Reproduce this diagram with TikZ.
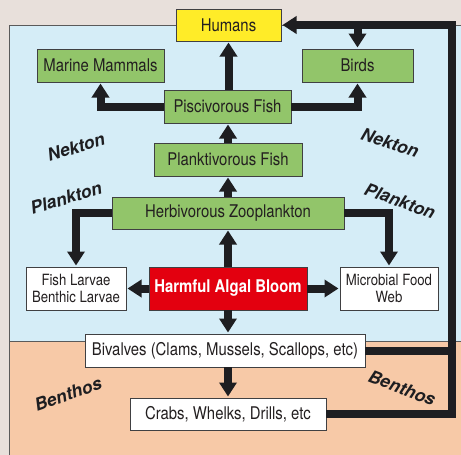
\documentclass[tikz,border=0pt]{standalone}
\usepackage{fontspec}
\usetikzlibrary{arrows.meta,shadows}
\newfontfamily\cnfont[FakeStretch=0.85]{TeX Gyre Heros}
\newfontfamily\lblfont{TeX Gyre Heros}
\definecolor{outerbg}{RGB}{232,224,219}
\definecolor{seablue}{RGB}{213,237,247}
\definecolor{peach}{RGB}{247,201,167}
\definecolor{boxgreen}{RGB}{146,197,106}
\definecolor{hyellow}{RGB}{255,236,40}
\definecolor{hred}{RGB}{227,0,15}
\definecolor{ink}{RGB}{30,30,33}
\definecolor{txt}{RGB}{35,31,32}
\definecolor{frameline}{RGB}{90,90,90}
\tikzset{
  box/.style={draw=ink!85, line width=0.9pt, inner sep=0pt, outer sep=0pt,
    font=\cnfont\fontsize{17.5}{18}\selectfont, text=txt, align=center,
    drop shadow={shadow xshift=1.2pt, shadow yshift=-1.2pt, fill=black!40, opacity=1}},
  greenbox/.style={box, fill=boxgreen},
  whitebox/.style={box, fill=white},
  smallbox/.style={box, fill=white, font=\cnfont\fontsize{15.5}{17.5}\selectfont},
  lbl/.style={font=\lblfont\bfseries\itshape\fontsize{17.5}{18}\selectfont, text=ink, inner sep=0pt},
  arr/.style={draw=ink, line width=8pt, line join=miter, -{Triangle[width=17pt,length=14pt]}, shorten >=1.5pt},
  bar/.style={draw=ink, line width=8pt, line join=miter}
}
\begin{document}
\begin{tikzpicture}[x=1pt,y=-1pt]
\useasboundingbox (0,0) rectangle (461,455);
\fill[outerbg] (0,0) rectangle (461,455);
\fill[seablue] (9.5,25.5) rectangle (461,341);
\fill[peach] (9.5,341) rectangle (461,455);
\draw[frameline, line width=0.8pt] (461,25.5) -- (9.5,25.5) -- (9.5,455);
\draw[frameline, line width=0.8pt] (9.5,341) -- (461,341);

% nodes
\node[box, fill=hyellow, minimum width=105pt, minimum height=32pt] (hum) at (228.5,25) {Humans};
\node[greenbox, minimum width=127pt, minimum height=33pt] (mm) at (100.5,65.5) {Marine Mammals};
\node[greenbox, minimum width=111pt, minimum height=33pt] (birds) at (357.5,65.5) {Birds};
\node[greenbox, minimum width=127pt, minimum height=33pt] (pisc) at (227.5,106.5) {Piscivorous Fish};
\node[greenbox, minimum width=148pt, minimum height=33pt] (plank) at (228,159.5) {Planktivorous Fish};
\node[greenbox, minimum width=232pt, minimum height=32pt] (herb) at (228,213) {Herbivorous Zooplankton};
\node[smallbox, minimum width=100pt, minimum height=43pt] (larv) at (76,288.5) {Fish Larvae\\Benthic Larvae};
\node[box, fill=hred, text=white, font=\cnfont\bfseries\fontsize{17.5}{18}\selectfont, minimum width=158pt, minimum height=43pt] (hab) at (228,288.5) {Harmful Algal Bloom};
\node[smallbox, minimum width=98pt, minimum height=43pt] (micro) at (389,288.5) {Microbial Food\\Web};
\node[whitebox, minimum width=280pt, minimum height=33pt] (biv) at (225,350.5) {Bivalves (Clams, Mussels, Scallops, etc)};
\node[whitebox, minimum width=196pt, minimum height=32pt] (crabs) at (228,414) {Crabs, Whelks, Drills, etc};

% zone labels
\node[lbl, rotate=17] (nk1) at (76,147) {Nekton};
\node[lbl, rotate=17] (pk1) at (66,198) {Plankton};
\node[lbl, rotate=-18] (nk2) at (390,143) {Nekton};
\node[lbl, rotate=-20] (pk2) at (400,201) {Plankton};
\node[lbl, rotate=19] (bn1) at (68,394) {Benthos};
\node[lbl, rotate=-21] (bn2) at (402,388) {Benthos};

% connectors
\draw[arr] (pisc.north -| hum.south) -- (hum.south);
\draw[arr] (pisc.west) -| (mm.south);
\draw[arr] (pisc.east) -| (birds.south);
\draw[arr] (plank.north) -- (plank.north |- pisc.south);
\draw[arr] (herb.north) -- (herb.north |- plank.south);
\draw[arr] (herb.west) -| (larv.north);
\draw[arr] (herb.east) -| (micro.north);
\draw[arr] (hab.north) -- (hab.north |- herb.south);
\draw[arr] (hab.west) -- (larv.east);
\draw[arr] (hab.east) -- (micro.west);
\draw[arr] (hab.south) -- (hab.south |- biv.north);
\draw[arr] (crabs.north |- biv.south) -- (crabs.north);

\coordinate (rt) at (452,25);
\draw[bar] (biv.east) -- (biv.east -| rt);
\draw[arr] (crabs.east) -| (rt) -- (hum.east);
\draw[arr] (birds.north |- rt) -- (birds.north);
\end{tikzpicture}
\end{document}
